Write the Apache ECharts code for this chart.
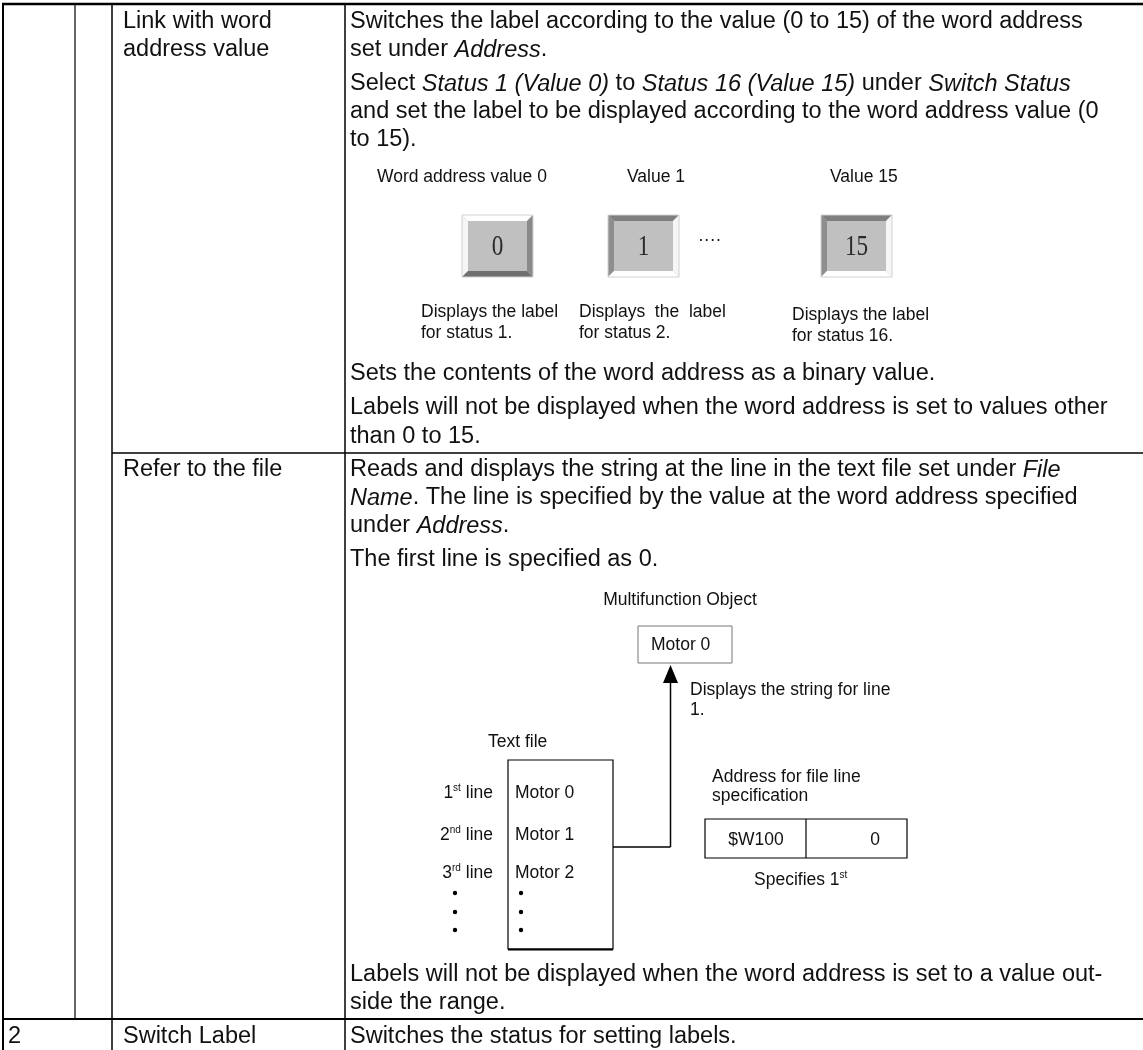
<!DOCTYPE html>
<html>
<head>
<meta charset="utf-8">
<script src="https://cdn.jsdelivr.net/npm/echarts@6/dist/echarts.min.js"></script>
<style>
  html, body { margin: 0; padding: 0; background: #fff; }
  #main { width: 1143px; height: 1050px; }
</style>
</head>
<body>
<div id="main"></div>
<script>
// ---------------- content (text only) ----------------
const row1Name = ["Link with word", "address value"];
const row1Desc = [
  "Switches the label according to the value (0 to 15) of the word address",
  "set under {i|Address}.",
  "Select {i|Status 1 (Value 0)} to {i|Status 16 (Value 15)} under {i|Switch Status}",
  "and set the label to be displayed according to the word address value (0",
  "to 15)."
];
const buttonHeads = ["Word address value 0", "Value 1", "Value 15"];
const buttonValues = ["0", "1", "15"];
const buttonCaptions = [
  ["Displays the label", "for status 1."],
  ["Displays  the  label", "for status 2."],
  ["Displays the label", "for status 16."]
];
const ellipsis = "····";
const row1Tail = [
  "Sets the contents of the word address as a binary value.",
  "Labels will not be displayed when the word address is set to values other",
  "than 0 to 15."
];
const row2Name = ["Refer to the file"];
const row2Desc = [
  "Reads and displays the string at the line in the text file set under {i|File}",
  "{i|Name}. The line is specified by the value at the word address specified",
  "under {i|Address}.",
  "The first line is specified as 0."
];
const objectTitle = "Multifunction Object";
const objectValue = "Motor 0";
const arrowNote = ["Displays the string for line", "1."];
const fileTitle = "Text file";
const fileLineLabels = ["1{s|st} line", "2{s|nd} line", "3{s|rd} line"];
const fileLines = ["Motor 0", "Motor 1", "Motor 2"];
const addrTitle = ["Address for file line", "specification"];
const addrCells = ["$W100", "0"];
const addrNote = "Specifies 1{s|st}";
const row2Tail = [
  "Labels will not be displayed when the word address is set to a value out-",
  "side the range."
];
const row3 = ["2", "Switch Label", "Switches the status for setting labels."];

// ---------------- helpers ----------------
const SANS = '"Liberation Sans", Arial, Helvetica, sans-serif';
const SERIF = '"Liberation Serif", "Times New Roman", serif';
const INK = '#111';

function richFor(size, lh) {
  return {
    i: { fontStyle: 'italic', fontSize: size, fontFamily: SANS, fill: INK, lineHeight: lh },
    s: { fontSize: Math.round(size * 0.55), fontFamily: SANS, fill: INK, verticalAlign: 'top', lineHeight: lh }
  };
}
function txt(x, y, text, size, extra) {
  const lh = Math.round(size * 1.15);
  return {
    type: 'text', x: x, y: y, silent: true,
    style: Object.assign({
      text: text, fontSize: size, fontFamily: SANS, fill: INK,
      textAlign: 'left', align: 'left',
      textVerticalAlign: 'middle', verticalAlign: 'middle',
      lineHeight: lh, rich: richFor(size, lh)
    }, extra || {})
  };
}
function lines(x, y0, arr, size, step, extra) {
  return arr.map((t, i) => txt(x, y0 + i * step, t, size, extra));
}
function seg(x1, y1, x2, y2, w, color) {
  return { type: 'line', silent: true, shape: { x1, y1, x2, y2 },
           style: { stroke: color || '#000', lineWidth: w } };
}
function box(x, y, w, h, lw, color) {
  return { type: 'rect', silent: true, shape: { x, y, width: w, height: h },
           style: { fill: 'none', stroke: color || '#000', lineWidth: lw } };
}
function poly(pts, fill) {
  return { type: 'polygon', silent: true, shape: { points: pts }, style: { fill: fill } };
}
function button(x0, y0, label, raised) {
  const w = 71, h = 62, b = 6;
  const els = [];
  els.push({ type: 'rect', silent: true, shape: { x: x0, y: y0, width: w, height: h }, style: { fill: '#c0c0c0' } });
  els.push(poly([[x0, y0], [x0 + w, y0], [x0 + w - b, y0 + b], [x0 + b, y0 + b]], raised ? '#ffffff' : '#7f7f7f'));
  els.push(poly([[x0, y0], [x0 + b, y0 + b], [x0 + b, y0 + h - b], [x0, y0 + h]], raised ? '#f6f6f6' : '#8e8e8e'));
  els.push(poly([[x0, y0 + h], [x0 + b, y0 + h - b], [x0 + w - b, y0 + h - b], [x0 + w, y0 + h]], raised ? '#707070' : '#ffffff'));
  els.push(poly([[x0 + w, y0], [x0 + w, y0 + h], [x0 + w - b, y0 + h - b], [x0 + w - b, y0 + b]], raised ? '#8a8a8a' : '#f6f6f6'));
  els.push(box(x0, y0, w, h, 1, '#d2d2d2'));
  els.push({
    type: 'text', x: x0 + w / 2, y: y0 + h / 2 + 1, silent: true, scaleX: 0.8,
    style: { text: label, fontSize: 29, fontFamily: SERIF, fill: '#2a2a2a',
             textAlign: 'center', align: 'center', textVerticalAlign: 'middle', verticalAlign: 'middle' }
  });
  return els;
}

// ---------------- build ----------------
const BODY = 23.5, SMALL = 17.5;
const els = [];

// table rules
els.push(seg(2, 4, 1143, 4, 2.5));
els.push(seg(3, 3, 3, 1050, 2));
els.push(seg(75, 4, 75, 1019, 1.2));
els.push(seg(112, 4, 112, 1050, 1.5));
els.push(seg(345, 4, 345, 1050, 1.5));
els.push(seg(112, 453, 1143, 453, 1.5));
els.push(seg(2, 1019, 1143, 1019, 2));

// row 1
els.push(...lines(123, 22, row1Name, BODY, 28));
els.push(...lines(350, 22, row1Desc.slice(0, 2), BODY, 28));
els.push(...lines(350, 84, row1Desc.slice(2), BODY, 28));

const btnX = [462, 608, 821];
const headX = [377, 627, 830];
buttonHeads.forEach((t, i) => els.push(txt(headX[i], 177, t, SMALL)));
buttonValues.forEach((v, i) => els.push(...button(btnX[i], 215, v, i === 0)));
els.push(txt(698, 240, ellipsis, SMALL));
const capX = [421, 579, 792];
const capY = [312, 312, 315];
buttonCaptions.forEach((c, i) => els.push(...lines(capX[i], capY[i], c, SMALL, 21)));

els.push(txt(350, 374, row1Tail[0], BODY));
els.push(...lines(350, 408, row1Tail.slice(1), BODY, 29));

// row 2
els.push(...lines(123, 470, row2Name, BODY, 28));
els.push(...lines(350, 470, row2Desc.slice(0, 3), BODY, 28));
els.push(txt(350, 560, row2Desc[3], BODY));

els.push(txt(680, 600, objectTitle, SMALL, { textAlign: 'center', align: 'center' }));
els.push(box(638, 626, 94, 37, 1, '#777'));
els.push(txt(651, 645, objectValue, SMALL));
// arrow
els.push(seg(613, 847, 670.5, 847, 1.5));
els.push(seg(670.5, 847, 670.5, 680, 1.5));
els.push(poly([[663, 683], [678, 683], [670.5, 665]], '#000'));
els.push(...lines(690, 690, arrowNote, SMALL, 20));

els.push(txt(488, 742, fileTitle, SMALL));
els.push(box(508, 760, 105, 189, 1.2));
els.push(seg(508, 949.5, 613, 949.5, 2));
const fileY = [793, 835, 873];
fileLineLabels.forEach((t, i) => els.push(txt(493, fileY[i], t, SMALL, { textAlign: 'right', align: 'right' })));
fileLines.forEach((t, i) => els.push(txt(515, fileY[i], t, SMALL)));
[893, 912, 930].forEach(y => {
  els.push({ type: 'circle', silent: true, shape: { cx: 455, cy: y, r: 2.2 }, style: { fill: '#000' } });
  els.push({ type: 'circle', silent: true, shape: { cx: 521, cy: y, r: 2.2 }, style: { fill: '#000' } });
});

els.push(...lines(712, 777, addrTitle, SMALL, 19));
els.push(box(705, 819, 202, 39, 1.2));
els.push(seg(806, 819, 806, 858, 1.2));
els.push(txt(756, 840, addrCells[0], SMALL, { textAlign: 'center', align: 'center' }));
els.push(txt(875, 840, addrCells[1], SMALL, { textAlign: 'center', align: 'center' }));
els.push(txt(754, 880, addrNote, SMALL));

els.push(...lines(350, 975, row2Tail, BODY, 28));

// row 3
els.push(txt(8, 1037, row3[0], BODY));
els.push(txt(123, 1037, row3[1], BODY));
els.push(txt(350, 1037, row3[2], BODY));

const chart = echarts.init(document.getElementById('main'), null, { renderer: 'canvas' });
chart.setOption({
  backgroundColor: '#ffffff',
  animation: false,
  graphic: { elements: els }
});
</script>
</body>
</html>
